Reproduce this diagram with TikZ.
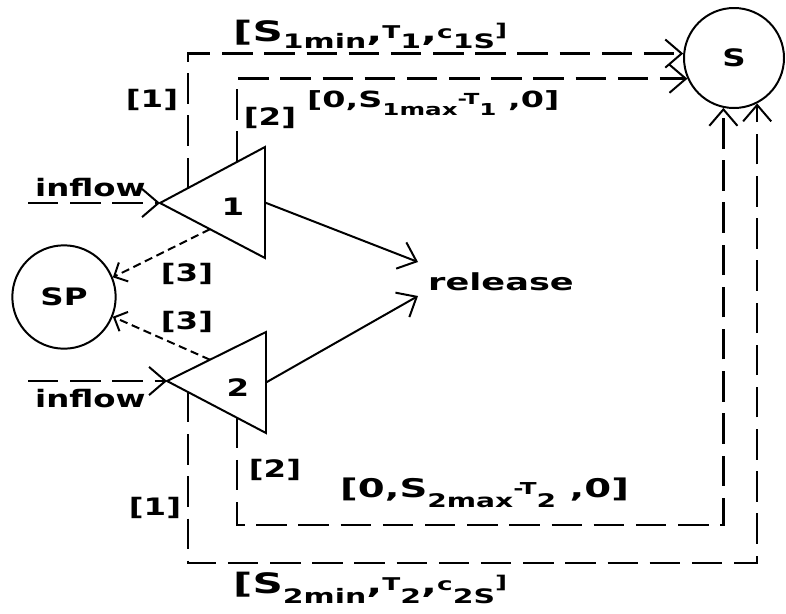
\documentclass[tikz,border=0pt]{standalone}
\usepackage{fontspec}
\newfontfamily\df{DejaVu Sans Bold}[FakeStretch=1.35]
\newfontfamily\dl{DejaVu Sans Bold}[FakeStretch=1.5]
\usetikzlibrary{arrows.meta,calc}
% lowered / raised parts of the labels: #1 shift, #2 size, #3 text
\newcommand\lw[3]{\raisebox{-#1pt}{\fontsize{#2}{#2}\selectfont #3}}
\newcommand\hg[3]{\raisebox{#1pt}{\fontsize{#2}{#2}\selectfont #3}}
\begin{document}
\begin{tikzpicture}[x=0.03cm,y=-0.03cm,
  ln/.style={line width=1.7pt},
  dsh/.style={line width=2.2pt, dash pattern=on 26pt off 10pt},
  sdsh/.style={line width=1.7pt, dash pattern=on 7pt off 4pt},
  tip/.style={-{Straight Barb[length=14pt,width=24pt,line width=1.7pt]}},
  stip/.style={-{Straight Barb[length=9pt,width=18pt]}},
  txt/.style={font=\df\fontsize{20.5}{24}\selectfont, inner sep=0pt},
  lab/.style={font=\dl\fontsize{22}{26}\selectfont, inner sep=0pt},
  labbig/.style={font=\dl\fontsize{24}{28}\selectfont, inner sep=0pt},
  labsmall/.style={font=\dl\fontsize{19}{23}\selectfont, inner sep=0pt},
  circ/.style={circle, draw, line width=1.7pt, inner sep=0pt, minimum size=3cm}]
\useasboundingbox (0,0) rectangle (786,613);
% circles
\node[circ, txt] (S) at (734,58) {S};
\node[circ, txt, minimum size=3.1cm] (SP) at (64,297) {SP};
% triangles
\coordinate (A1) at (160,203); \coordinate (B1) at (265,147); \coordinate (C1) at (265,258);
\coordinate (A2) at (167,381); \coordinate (B2) at (266,332); \coordinate (C2) at (266,433);
\draw[ln] (A1) -- (B1) -- (C1) -- cycle;
\draw[ln] (A2) -- (B2) -- (C2) -- cycle;
\node[txt] (n1) at (233,207) {1};
\node[txt] (n2) at (238,388) {2};
% release
\node[txt, font=\dl\fontsize{20}{24}\selectfont, anchor=base west] (rel) at (428,290) {release};
\coordinate (M1) at ($(B1)!0.5!(C1)$);
\coordinate (M2) at ($(B2)!0.5!(C2)$);
\coordinate (r1) at (418,262);
\coordinate (r2) at (418,296);
\draw[ln,tip] (M1) -- (r1);
\draw[ln,tip] (M2) -- (r2);
% inflow
\coordinate (i1) at (28,203);
\coordinate (i2) at (28,381);
\draw[dsh,tip] (i1) -- (A1);
\draw[dsh,tip] (i2) -- (A2);
\node[txt, anchor=base west] (inf1) at (35,196) {inflow};
\node[txt, anchor=base west] (inf2) at (35,407) {inflow};
% [1] and [2] paths
\coordinate (e11) at ($(A1)!0.2667!(B1)$);
\coordinate (e12) at ($(A1)!0.7333!(B1)$);
\coordinate (e21) at ($(A2)!0.2121!(C2)$);
\coordinate (e22) at ($(A2)!0.7071!(C2)$);
\coordinate (yb1) at (0,563);
\coordinate (yb2) at (0,525);
\draw[dsh,tip] (e11) |- (S.175);
\draw[dsh,tip] (e12) |- (S.204);
\draw[dsh,tip] (e21) |- (S.-63 |- yb1) -- (S.-63);
\draw[dsh,tip] (e22) |- (S.-102 |- yb2) -- (S.-102);
% [3] paths
\coordinate (f1) at ($(A1)!0.476!(C1)$);
\coordinate (f2) at ($(A2)!0.434!(B2)$);
\draw[sdsh,stip] (f1) -- (SP.22);
\draw[sdsh,stip] (f2) -- (SP.-22);
% labels
\node[txt] (l1a) at (152,100) {[1]};
\node[txt] (l2a) at (270,118) {[2]};
\node[txt] (l3a) at (187,274) {[3]};
\node[txt] (l3b) at (187,322) {[3]};
\node[txt] (l2b) at (275,470) {[2]};
\node[txt] (l1b) at (155,508) {[1]};
\node[labbig, anchor=base west] (L1) at (233,41)
  {[S\lw{6}{17}{1min},\hg{2}{15}{T}\lw{6}{17}{1},\hg{2}{15}{c}\lw{6}{17}{1S}\hg{4}{15}{]}};
\node[labsmall, anchor=base west] (L2) at (307,107)
  {[0,S\lw{7}{14}{1max}\hg{2}{13}{-T}\lw{7}{14}{1} ,0]};
\node[lab, anchor=base west] (L3) at (340,497)
  {[0,S\lw{9}{16}{2max}\hg{2}{14}{-T}\lw{9}{16}{2} ,0]};
\node[labbig, anchor=base west] (L4) at (233,593)
  {[S\lw{9}{17}{2min},\hg{2}{15}{T}\lw{9}{17}{2},\hg{2}{15}{c}\lw{9}{17}{2S}\hg{4}{15}{]}};
\end{tikzpicture}
\end{document}
